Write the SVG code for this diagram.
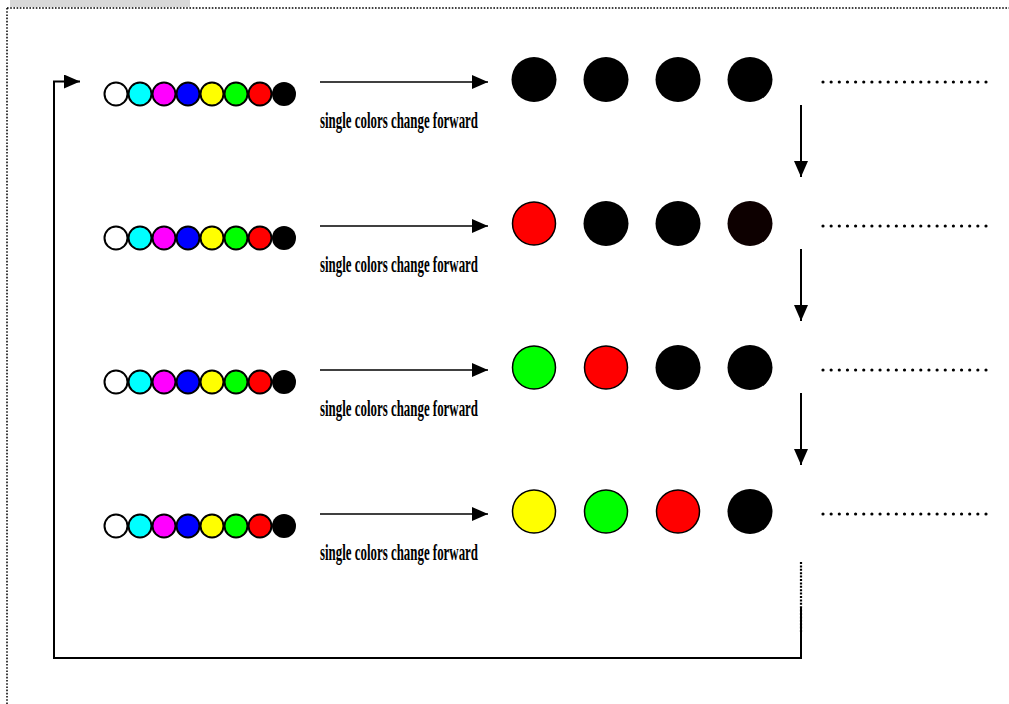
<svg xmlns="http://www.w3.org/2000/svg" width="1009" height="704" viewBox="0 0 1009 704">
<style>
.sm{stroke:#000;stroke-width:2}
.big{stroke:#000;stroke-width:1.5}
.ln{stroke:#000;stroke-width:2;fill:none}
.ar{stroke:#000;stroke-width:1.6;fill:none}
.lbl{font-family:"Liberation Serif",serif;font-weight:bold;font-size:23px;fill:#000}
.dots{stroke:#000;stroke-width:3.2;stroke-linecap:round;stroke-dasharray:0 8.15;fill:none}
.brd{stroke:#000;stroke-width:1.5;stroke-dasharray:1.6 1.6;fill:none}
</style>
<defs>
<marker id="ah" viewBox="0 0 16 14" refX="16" refY="7" markerWidth="16" markerHeight="14" markerUnits="userSpaceOnUse" orient="auto">
<path d="M0,0 L16,7 L0,14 Z" fill="#000"/>
</marker>
<g id="palette">
<circle cx="0" cy="0" r="11.5" fill="#fff" class="sm"/>
<circle cx="24" cy="0" r="11.5" fill="#00ffff" class="sm"/>
<circle cx="48" cy="0" r="11.5" fill="#ff00ff" class="sm"/>
<circle cx="72" cy="0" r="11.5" fill="#0000ff" class="sm"/>
<circle cx="96" cy="0" r="11.5" fill="#ffff00" class="sm"/>
<circle cx="120" cy="0" r="11.5" fill="#00ff00" class="sm"/>
<circle cx="144" cy="0" r="11.5" fill="#ff0000" class="sm"/>
<circle cx="168" cy="0" r="12" fill="#000"/>
</g>
</defs>
<rect width="1009" height="704" fill="#fff"/>
<rect x="10" y="0" width="180" height="7" fill="#d9d9d9"/>
<path class="brd" d="M7,8 H1009 M7,8 V704"/>

<g id="row1">
<use href="#palette" x="116" y="94"/>
<text class="lbl" x="320" y="128" textLength="158" lengthAdjust="spacingAndGlyphs">single colors change forward</text>
<circle cx="534" cy="79.5" r="22.5" fill="#000"/>
<circle cx="606" cy="79.5" r="22.5" fill="#000"/>
<circle cx="678" cy="79.5" r="22.5" fill="#000"/>
<circle cx="750" cy="79.5" r="22.5" fill="#000"/>
<path class="dots" d="M823,82 H988"/>
</g>
<g id="row2">
<use href="#palette" x="116" y="238"/>
<text class="lbl" x="320" y="272" textLength="158" lengthAdjust="spacingAndGlyphs">single colors change forward</text>
<circle cx="534" cy="223.5" r="21.5" fill="#ff0000" class="big"/>
<circle cx="606" cy="223.5" r="22.5" fill="#000"/>
<circle cx="678" cy="223.5" r="22.5" fill="#000"/>
<circle cx="750" cy="223.5" r="22.5" fill="#0d0000"/>
<path class="dots" d="M823,226 H988"/>
</g>
<g id="row3">
<use href="#palette" x="116" y="382"/>
<text class="lbl" x="320" y="416" textLength="158" lengthAdjust="spacingAndGlyphs">single colors change forward</text>
<circle cx="534" cy="367.5" r="21.5" fill="#00ff00" class="big"/>
<circle cx="606" cy="367.5" r="21.5" fill="#ff0000" class="big"/>
<circle cx="678" cy="367.5" r="22.5" fill="#000"/>
<circle cx="750" cy="367.5" r="22.5" fill="#000"/>
<path class="dots" d="M823,370 H988"/>
</g>
<g id="row4">
<use href="#palette" x="116" y="526"/>
<text class="lbl" x="320" y="560" textLength="158" lengthAdjust="spacingAndGlyphs">single colors change forward</text>
<circle cx="534" cy="511.5" r="21.5" fill="#ffff00" class="big"/>
<circle cx="606" cy="511.5" r="21.5" fill="#00ff00" class="big"/>
<circle cx="678" cy="511.5" r="21.5" fill="#ff0000" class="big"/>
<circle cx="750" cy="511.5" r="22.5" fill="#000"/>
<path class="dots" d="M823,514 H988"/>
</g>

<g id="connectors">
<path class="ar" d="M320,82 H488" marker-end="url(#ah)"/>
<path class="ar" d="M320,226 H488" marker-end="url(#ah)"/>
<path class="ar" d="M320,370 H488" marker-end="url(#ah)"/>
<path class="ar" d="M320,514 H488" marker-end="url(#ah)"/>
<path class="ln" d="M801,105 V177" marker-end="url(#ah)"/>
<path class="ln" d="M801,249 V321" marker-end="url(#ah)"/>
<path class="ln" d="M801,393 V465" marker-end="url(#ah)"/>
<path d="M801,562 V633" stroke="#000" stroke-width="2.2" stroke-dasharray="2 1.4" fill="none"/>
<path class="ln" d="M801,608 V658 H54 V81.5 H80" marker-end="url(#ah)"/>
</g>
</svg>
